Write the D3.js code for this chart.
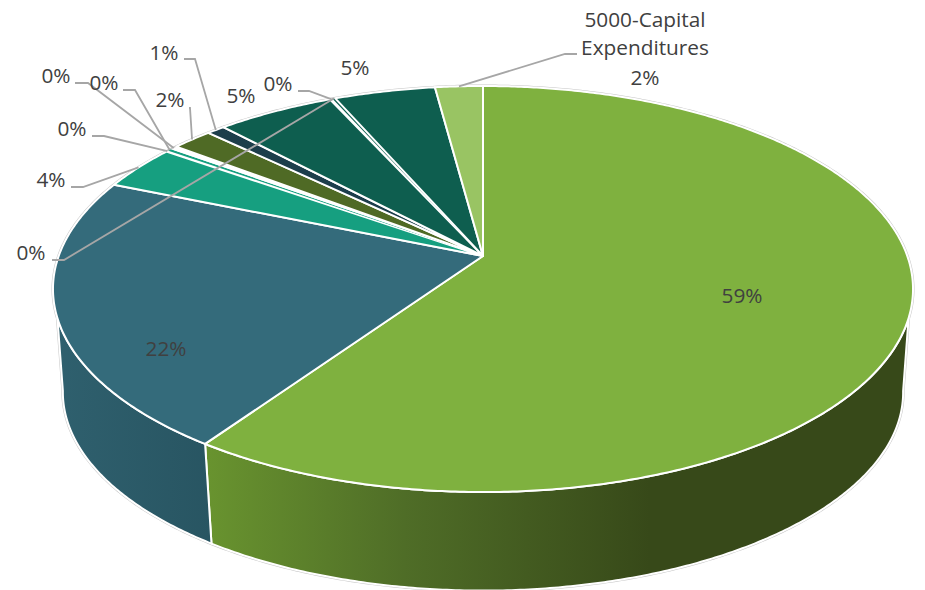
<!DOCTYPE html>
<html><head><meta charset="utf-8">
<script src="https://cdn.jsdelivr.net/npm/d3@7"></script>
<style>html,body{margin:0;background:#fff}svg{display:block}</style></head>
<body><svg id="c" width="925" height="590"></svg>
<script>
// clockwise from 12 o'clock, percent of total
const categories = ["Personnel","Services","Supplies","Minor A","Minor B","Minor C","Minor D","Minor E","Minor F","Minor G","Minor H","Other","5000-Capital Expenditures"];
const values = [59.6,21.65,3.55,0.12,0.16,0.32,1.8,0.8,5.2,0.12,0.13,4.45,2.1];
const valueLabels = ["59%","22%","4%","0%","0%","0%","2%","1%","5%","0%","0%","5%","2%"];
const sliceColors = ["#7fb13f","#346b7b","#169f80","#ffffff","#169f80","#ffffff","#4f6a25","#1d3e4b","#0e5e4f","#ffffff","#0e5e4f","#0e5e4f","#99c463"];

// perspective projection of the pie disc
const P={cx:483,cy:256,A:197.65,B:424.3,k:0.1626};
const Q={cx:483,cy:360,A:197.65*0.977,B:424.3*0.977,k:0.1626};
const proj=(p,t)=>{const u=Math.sin(t),v=Math.cos(t),w=1+p.k*v;return [p.cx+p.B*u/w,p.cy-p.A*v/w];};
const svg=d3.select("#c");
const pie=d3.pie().sort(null).value(d=>d)(values);
const deg=Math.PI/180;
const leftT=252.6*deg, rightT=107.4*deg, leftB=261*deg, rightB=99*deg;
const line=d3.line();
const arcPts=(p,a,b)=>{const n=Math.max(2,Math.ceil(Math.abs(b-a)/(0.5*deg)));return d3.range(n+1).map(i=>proj(p,a+(b-a)*i/n));};

const defs=svg.append("defs");
const g1=defs.append("linearGradient").attr("id","gw").attr("gradientUnits","userSpaceOnUse").attr("x1",204).attr("x2",650).attr("y1",0).attr("y2",0);
g1.append("stop").attr("offset",0).attr("stop-color","#69942f");
g1.append("stop").attr("offset",0.45).attr("stop-color","#4f6d27");
g1.append("stop").attr("offset",1).attr("stop-color","#374919");
const g2=defs.append("linearGradient").attr("id","bw").attr("gradientUnits","userSpaceOnUse").attr("x1",53).attr("x2",211).attr("y1",0).attr("y2",0);
g2.append("stop").attr("offset",0).attr("stop-color","#2f606e");
g2.append("stop").attr("offset",1).attr("stop-color","#285562");

// walls
const b0=pie[0].endAngle;
const wall=(a,b,a2,b2,fill)=>{
  const pts=arcPts(P,a,b).concat(arcPts(Q,b2,a2));
  svg.append("path").attr("d",line(pts)+"Z").attr("fill",fill).attr("stroke","#fff").attr("stroke-width",2).attr("stroke-linejoin","round");
};
// soft grey outer edge
const outline=arcPts(Q,rightB,leftB).concat(arcPts(P,leftT,rightT+2*Math.PI));
svg.append("path").attr("d",line(outline)+"Z").attr("fill","none").attr("stroke","#c8c8c8").attr("stroke-width",3);
wall(rightT,b0,rightB,b0,"url(#gw)");
wall(b0,leftT,b0,leftB,"url(#bw)");

// top
svg.selectAll("path.top").data(pie).join("path").attr("class","top")
 .attr("d",d=>line([[P.cx,P.cy]].concat(arcPts(P,d.startAngle,d.endAngle)))+"Z")
 .attr("fill",(d,i)=>sliceColors[i]).attr("stroke","#fff").attr("stroke-width",d=>d.value<0.4?0:2).attr("stroke-linejoin","round");

// leaders: text anchor and elbow are layout, end is the slice mid-point on the rim
const mid=d=>proj(P,(d.startAngle+d.endAngle)/2);
const layout=[
 {i:0,x:742,y:303},{i:1,x:166,y:356},
 {i:2,x:51,y:187,el:[[71,187],[83,187]]},
 {i:3,x:72,y:136,el:[[92,136],[104,136]]},
 {i:4,x:104,y:90,el:[[123,90],[135,90]]},
 {i:5,x:56,y:83,el:[[75,83],[88,83]]},
 {i:6,x:170,y:107,el:[[189,108],[190,108]]},
 {i:7,x:164,y:60,el:[[184,59],[195,59]]},
 {i:8,x:241,y:103},
 {i:9,x:278,y:91,el:[[298,91],[309,91]]},
 {i:10,x:31,y:260,el:[[52,260],[64,260]]},
 {i:11,x:355,y:75},
 {i:12,x:645,y:85,el:[[577,54],[565,54]]}
];
layout.forEach(l=>{
  if(!l.el)return;
  const pts=l.el.concat([mid(pie[l.i])]);
  svg.append("path").attr("d",line(pts)).attr("fill","none").attr("stroke","#a6a6a6").attr("stroke-width",1.8);
});
const fs="20.8px";
svg.selectAll("text.v").data(layout).join("text").attr("class","v")
 .attr("x",d=>d.x).attr("y",d=>d.y).attr("text-anchor","middle")
 .style("font-family","'Open Sans'").style("font-size",fs).attr("fill","#404040")
 .text(d=>valueLabels[d.i]);
const cap=categories[12].split(" ");
[[cap[0],27],[cap[1],55]].forEach(([t,y])=>svg.append("text").attr("x",645).attr("y",y).attr("text-anchor","middle").style("font-family","'Open Sans'").style("font-size",fs).attr("fill","#404040").text(t));
</script></body></html>
